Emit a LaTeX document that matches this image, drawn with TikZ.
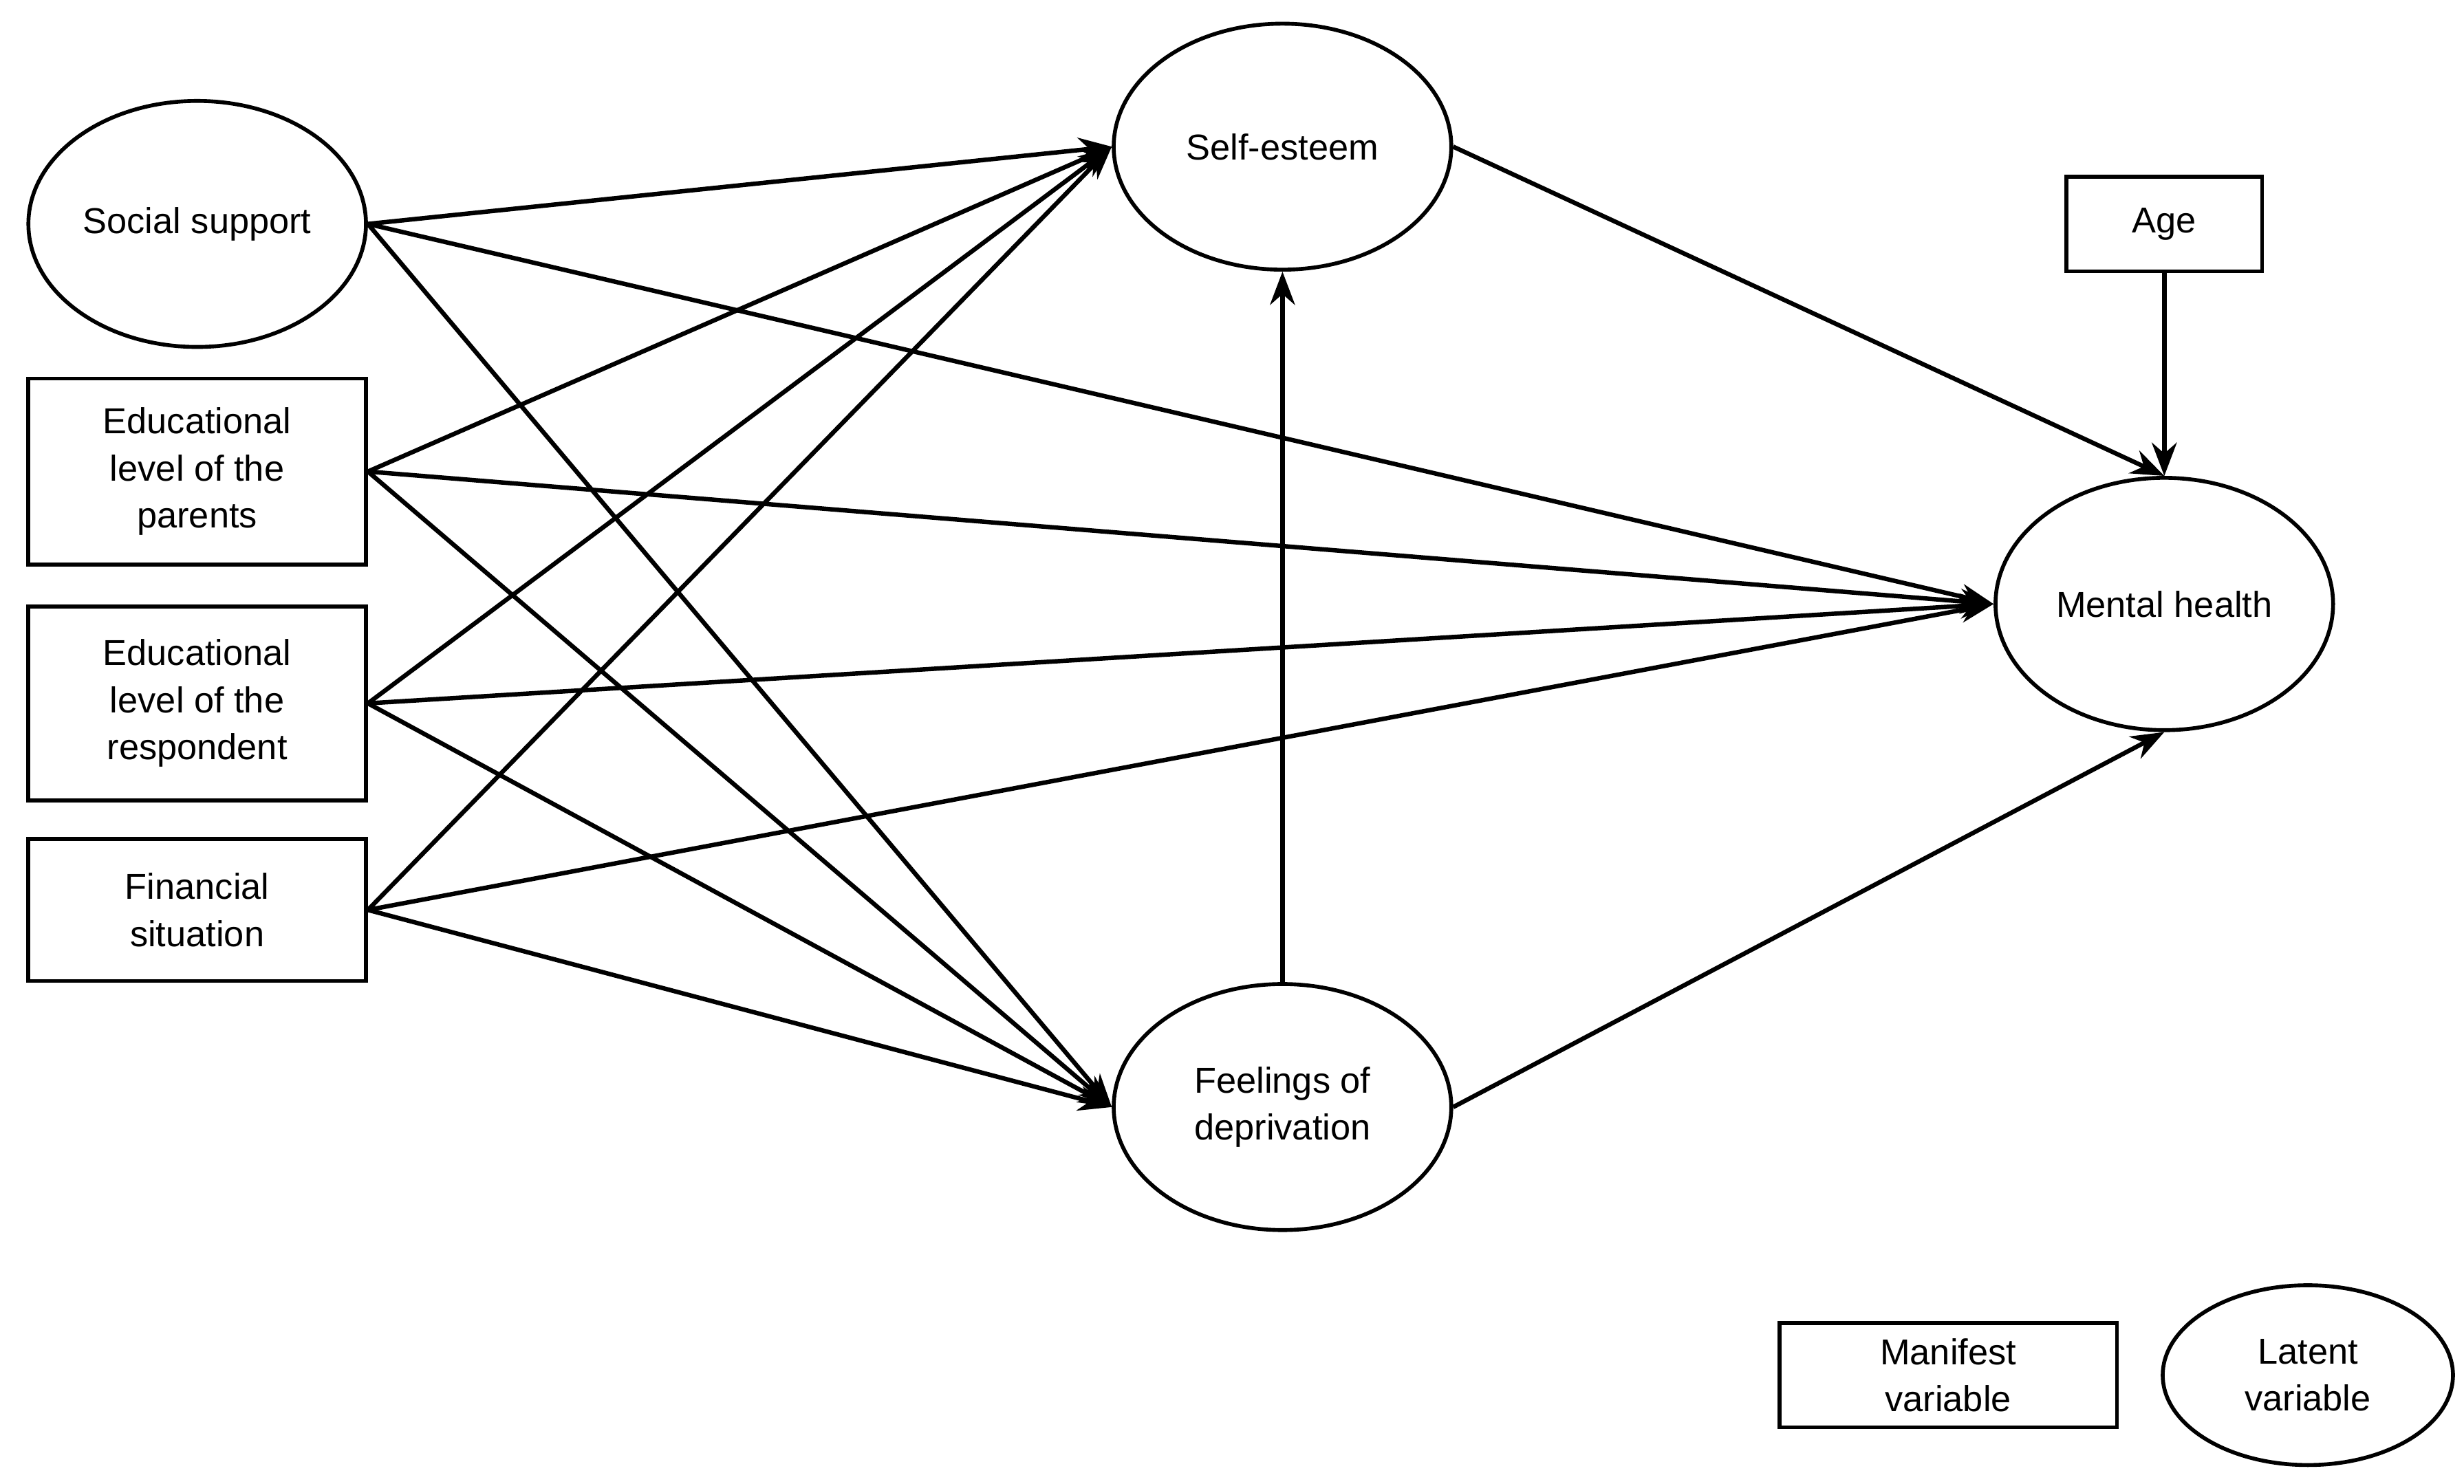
\documentclass[tikz,border=0pt]{standalone}
\usepackage{fontspec}
\setmainfont{Liberation Sans}
\usetikzlibrary{arrows.meta,shapes.geometric}
\begin{document}
\begin{tikzpicture}[x=0.02cm,y=-0.02cm,
  lat/.style={draw,line width=1.4pt,ellipse,minimum width=214*0.02cm,minimum height=156*0.02cm,inner sep=0pt,align=center,font=\fontsize{13}{17}\selectfont},
  man/.style={draw,line width=1.4pt,rectangle,minimum width=214*0.02cm,inner sep=0pt,align=center,font=\fontsize{13}{17}\selectfont},
  arr/.style={line width=1.6pt,-{Stealth[length=12pt,width=9pt]}}]
\useasboundingbox (0,0) rectangle (1562,941);
\node[lat] (ss) at (125,142) {Social support};
\node[man,minimum height=118*0.02cm] (ep) at (125,299) {Educational\\level of the\\parents};
\node[man,minimum height=123*0.02cm] (er) at (125,446) {Educational\\level of the\\respondent};
\node[man,minimum height=90*0.02cm] (fs) at (125,577) {Financial\\situation};
\node[lat] (se) at (813,93) {Self-esteem};
\node[lat] (fd) at (813,702) {Feelings of\\deprivation};
\node[lat,minimum height=160*0.02cm] (mh) at (1372,383) {Mental health};
\node[man,minimum width=124*0.02cm,minimum height=60*0.02cm] (age) at (1372,142) {Age};
\node[man,minimum height=66*0.02cm] (mv) at (1235,872) {Manifest\\variable};
\node[lat,minimum width=184*0.02cm,minimum height=114*0.02cm] (lv) at (1463,872) {Latent\\variable};
\coordinate (seW) at (se.west);
\coordinate (fdW) at (fd.west);
\coordinate (mhW) at (mh.west);
\foreach \s in {ss,ep,er,fs}{
  \draw[arr] (\s.east) -- (seW);
  \draw[arr] (\s.east) -- (fdW);
  \draw[arr] (\s.east) -- (mhW);
}
\draw[arr] (fd.north) -- (se.south);
\draw[arr] (se.east) -- (mh.north);
\draw[arr] (age.south) -- (mh.north);
\draw[arr] (fd.east) -- (mh.south);
\end{tikzpicture}
\end{document}
